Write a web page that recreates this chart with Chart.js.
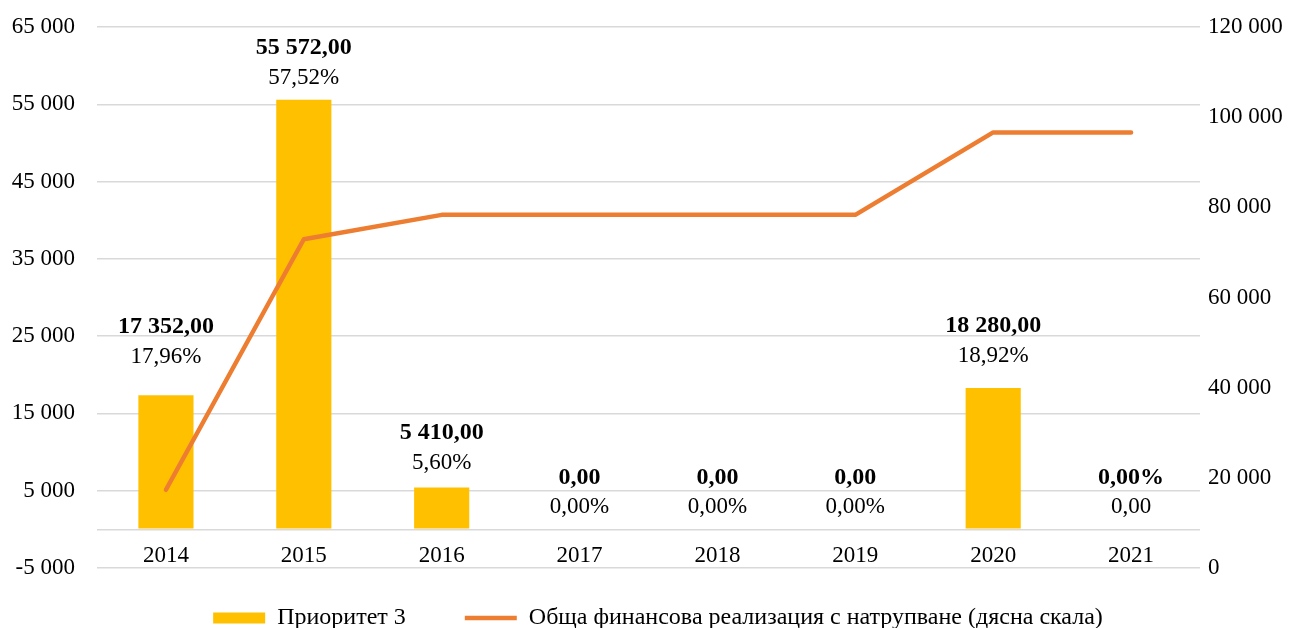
<!DOCTYPE html>
<html>
<head>
    <meta charset="utf-8" />
    <title>Приоритет 3</title>
    <script src="https://cdn.jsdelivr.net/npm/chart.js@4.4.1/dist/chart.umd.min.js"></script>
    <style>
        body {
            margin: 0;
            background: #fff;
        }
    </style>
</head>
<body>
    <canvas id="chartCanvas" width="1301" height="628"></canvas>

<script>
    // data
    var years = ['2014', '2015', '2016', '2017', '2018', '2019', '2020', '2021'];
    var priority3 = [17352, 55572, 5410, 0, 0, 0, 18280, 0];
    var cumulative = [17352, 72924, 78334, 78334, 78334, 78334, 96614, 96614];
    var boldLabels = ['17 352,00', '55 572,00', '5 410,00', '0,00', '0,00', '0,00', '18 280,00', '0,00%'];
    var subLabels = ['17,96%', '57,52%', '5,60%', '0,00%', '0,00%', '0,00%', '18,92%', '0,00'];
    var leftAxis = { min: -5000, max: 65000, step: 10000 };
    var rightAxis = { min: 0, max: 120000, step: 20000 };

    var FONT = '"Liberation Serif", "Times New Roman", serif';

    function fmt(v) {
        var s = String(Math.abs(v)).replace(/\B(?=(\d{3})+(?!\d))/g, ' ');
        return (v < 0 ? '-' : '') + s;
    }

    // two-line labels above the bars
    var barLabels = {
        id: 'barLabels',
        afterDatasetsDraw: function (chart, args, opts) {
            var ctx = chart.ctx;
            var meta = chart.getDatasetMeta(0);
            ctx.save();
            ctx.textAlign = 'center';
            ctx.textBaseline = 'middle';
            ctx.fillStyle = '#000';
            meta.data.forEach(function (bar, i) {
                var lift = opts.lift[i] || 0;
                ctx.font = 'bold 24px ' + FONT;
                ctx.fillText(boldLabels[i], bar.x, bar.y - 52 - lift);
                ctx.font = '23px ' + FONT;
                ctx.fillText(subLabels[i], bar.x, bar.y - 22 - lift);
            });
            ctx.restore();
        }
    };

    function noLabelPadding(scale) {
        scale.paddingTop = 0;
        scale.paddingBottom = 0;
    }

    var ctx_1 = document.getElementById('chartCanvas').getContext('2d');
    var chart1 = new Chart(ctx_1, {
        type: 'bar',
        data: {
            labels: years,
            datasets: [{
                type: 'bar',
                label: 'Приоритет 3',
                data: priority3,
                backgroundColor: '#FFC000',
                borderWidth: 0,
                pointStyle: 'rect',
                barPercentage: 0.4,
                categoryPercentage: 1,
                yAxisID: 'y',
                order: 2
            }, {
                type: 'line',
                label: 'Обща финансова реализация с натрупване (дясна скала)',
                data: cumulative,
                borderColor: '#ED7D31',
                backgroundColor: '#ED7D31',
                borderWidth: 4.5,
                borderCapStyle: 'round',
                borderJoinStyle: 'round',
                pointStyle: 'line',
                pointRadius: 0,
                tension: 0,
                yAxisID: 'y1',
                order: 1
            }]
        },
        options: {
            responsive: false,
            animation: false,
            layout: { padding: { left: 11, right: -4, top: 27, bottom: -33 } },
            scales: {
                x: {
                    grid: { display: false, drawTicks: false },
                    border: { display: false },
                    ticks: { color: '#000', font: { family: FONT, size: 23 }, mirror: true, padding: -2 },
                    afterFit: function (scale) { scale.height = -21; }
                },
                y: {
                    position: 'left',
                    min: leftAxis.min,
                    max: leftAxis.max,
                    grid: { color: '#d9d9d9', lineWidth: 1.5, drawTicks: false },
                    border: { display: false },
                    ticks: {
                        stepSize: leftAxis.step,
                        color: '#000',
                        font: { family: FONT, size: 23 },
                        padding: 22,
                        callback: function (v) { return v === 0 ? '' : fmt(v); }
                    },
                    afterBuildTicks: function (scale) {
                        scale.ticks.push({ value: 0 });
                        scale.ticks.sort(function (a, b) { return a.value - b.value; });
                    },
                    afterFit: function (scale) { scale.width = 86; noLabelPadding(scale); }
                },
                y1: {
                    position: 'right',
                    min: rightAxis.min,
                    max: rightAxis.max,
                    grid: { display: false, drawTicks: false },
                    border: { display: false },
                    ticks: {
                        stepSize: rightAxis.step,
                        color: '#000',
                        font: { family: FONT, size: 23 },
                        padding: 8,
                        callback: function (v) { return fmt(v); }
                    },
                    afterFit: function (scale) { scale.width = 105; noLabelPadding(scale); }
                }
            },
            plugins: {
                legend: {
                    position: 'bottom',
                    labels: {
                        color: '#000',
                        font: { family: FONT, size: 24 },
                        usePointStyle: true,
                        pointStyleWidth: 52,
                        boxHeight: 11,
                        padding: 59,
                        sort: function (a, b) { return a.datasetIndex - b.datasetIndex; }
                    }
                },
                tooltip: { enabled: false },
                barLabels: { lift: [16, 0, 3, 0, 0, 0, 10, 0] }
            }
        },
        plugins: [barLabels]
    });
</script>
</body>
</html>
